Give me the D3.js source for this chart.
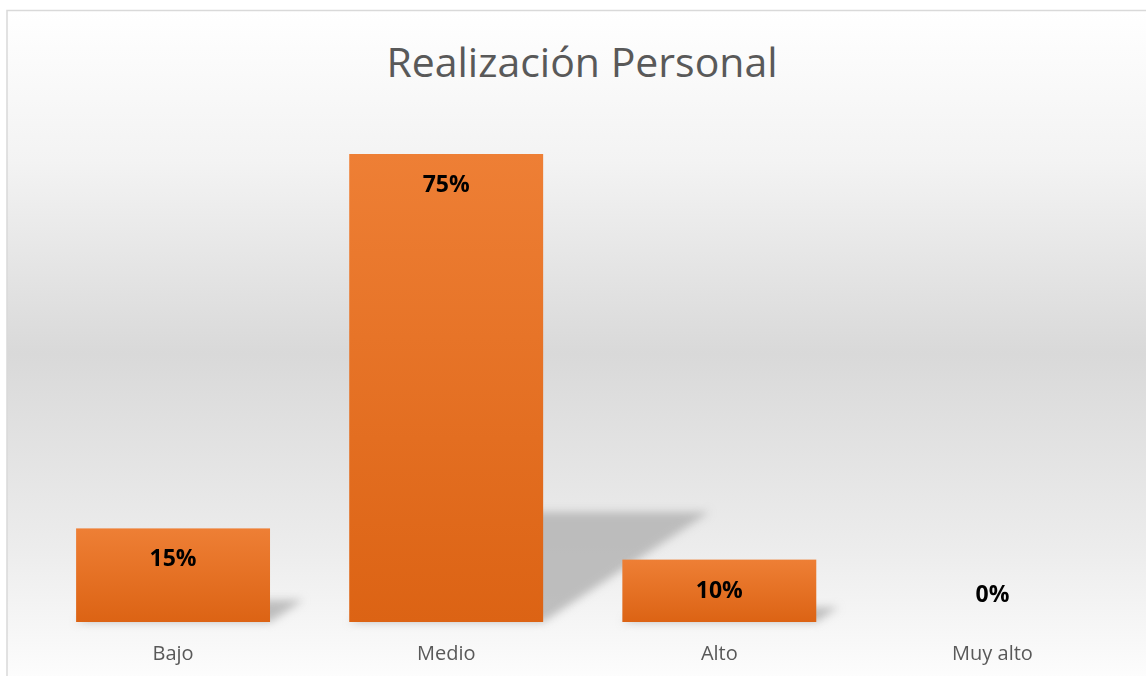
<!DOCTYPE html>
<html>
<head>
<meta charset="utf-8">
<script src="https://cdn.jsdelivr.net/npm/d3@7"></script>
<style>
  html, body { margin: 0; padding: 0; background: #fff; }
  svg { display: block; }
</style>
</head>
<body>
<svg id="chart"></svg>
<script>
// data
const categories = ["Bajo", "Medio", "Alto", "Muy alto"];
const values = [0.15, 0.75, 0.10, 0.00];
const valueLabels = ["15%", "75%", "10%", "0%"];
const title = "Realización Personal";

const W = 1146, H = 676;
const margin = { top: 122, left: 36.5, right: 17, bottom: 54 };
const baseY = 622;

const svg = d3.select("#chart").attr("width", W).attr("height", H);
const defs = svg.append("defs");

// chart area background gradient
const bg = defs.append("linearGradient").attr("id", "bg")
  .attr("x1", 0).attr("y1", 0).attr("x2", 0).attr("y2", 1);
[[0, "#ffffff"], [0.22, "#f3f3f3"], [0.5, "#d9d9d9"], [0.78, "#ececec"], [1, "#ffffff"]]
  .forEach(s => bg.append("stop").attr("offset", s[0]).attr("stop-color", s[1]));

const barGrad = defs.append("linearGradient").attr("id", "barGrad")
  .attr("x1", 0).attr("y1", 0).attr("x2", 0).attr("y2", 1);
barGrad.append("stop").attr("offset", 0).attr("stop-color", "#ee7f35");
barGrad.append("stop").attr("offset", 1).attr("stop-color", "#dc6314");

defs.append("filter").attr("id", "blur")
  .attr("x", "-50%").attr("y", "-50%").attr("width", "200%").attr("height", "200%")
  .append("feGaussianBlur").attr("stdDeviation", 4.5);

svg.append("rect")
  .attr("x", 7).attr("y", 10.5).attr("width", W + 10).attr("height", H + 10)
  .attr("fill", "url(#bg)").attr("stroke", "#d9d9d9").attr("stroke-width", 1.5);

const x = d3.scaleBand()
  .domain(categories)
  .range([margin.left, W - margin.right])
  .paddingInner(0.29)
  .paddingOuter(0.145);

const y = d3.scaleLinear()
  .domain([0, 0.8])
  .range([baseY, baseY - 0.8 * 624]);

// perspective shadows behind the bars
const shadows = svg.append("g").attr("filter", "url(#blur)");
categories.forEach((c, i) => {
  const h = baseY - y(values[i]);
  if (h <= 0) return;
  const x0 = x(c), x1 = x(c) + x.bandwidth();
  const dx = 0.355 * h, dy = 0.235 * h;
  shadows.append("path")
    .attr("d", `M${x0},${baseY} L${x1},${baseY} L${x1 + dx},${baseY - dy} L${x0 + dx},${baseY - dy} Z`)
    .attr("fill", "#b4b4b4").attr("opacity", 0.85);
});

svg.selectAll(".bar")
  .data(values)
  .enter().append("rect")
  .attr("class", "bar")
  .attr("x", (d, i) => x(categories[i]))
  .attr("y", d => y(d))
  .attr("width", x.bandwidth())
  .attr("height", d => baseY - y(d))
  .attr("fill", "url(#barGrad)");

svg.selectAll(".vlabel")
  .data(values)
  .enter().append("text")
  .attr("class", "vlabel")
  .attr("x", (d, i) => x(categories[i]) + x.bandwidth() / 2)
  .attr("y", d => d > 0 ? y(d) + 38 : y(d) - 20)
  .attr("text-anchor", "middle")
  .attr("font-family", "'Open Sans', sans-serif")
  .attr("font-weight", "bold")
  .attr("font-size", 23)
  .attr("fill", "#000")
  .text((d, i) => valueLabels[i]);

// category axis (no line, no ticks)
const axis = svg.append("g")
  .attr("transform", `translate(0,${baseY})`)
  .call(d3.axisBottom(x).tickSize(0).tickPadding(0));
axis.select(".domain").remove();
axis.selectAll("text")
  .attr("dy", 0).attr("y", 38)
  .attr("font-family", "'Open Sans', sans-serif")
  .attr("font-size", 20)
  .attr("fill", "#595959");

svg.append("text")
  .attr("x", 582).attr("y", 77)
  .attr("text-anchor", "middle")
  .attr("font-family", "'Open Sans', sans-serif")
  .attr("font-size", 41)
  .attr("fill", "#595959")
  .text(title);
</script>
</body>
</html>
